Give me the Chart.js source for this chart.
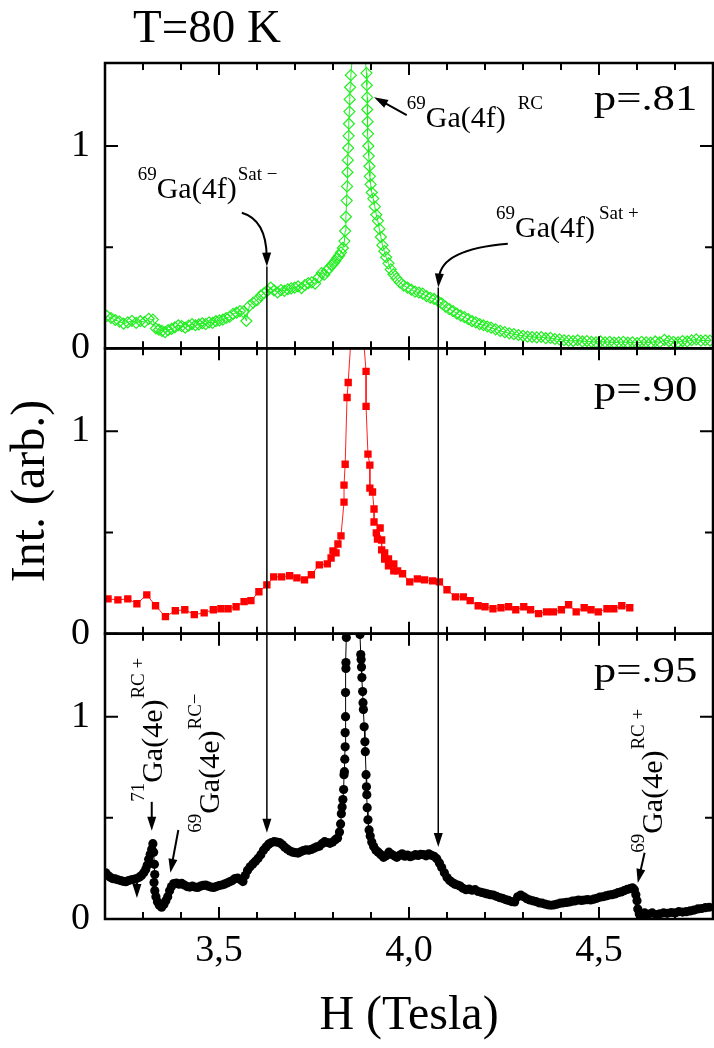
<!DOCTYPE html>
<html lang="en">
<head>
<meta charset="UTF-8">
<title>Ga NMR - T=80 K</title>
<script src="https://cdn.jsdelivr.net/npm/chart.js"></script>
<style>
  html, body { margin: 0; padding: 0; background: #fff; overflow: hidden; }
  #wrap { position: relative; width: 722px; height: 1048px; }
</style>
</head>
<body>
<div id="wrap"><canvas id="grafico" width="722" height="1048"></canvas></div>
<script>
// ---- values ----
const xMajor = [3.5, 4.0, 4.5];
const xMajorLabels = ['3,5', '4,0', '4,5'];
const yLabelled = [0, 1];
const panelLabels = ['p=.81', 'p=.90', 'p=.95'];

// p=.81  (H in Tesla, intensity)
const green = [[3.205,.160],[3.216,.150],[3.227,.140],[3.238,.132],[3.249,.122],[3.260,.128],[3.271,.136],[3.282,.126],[3.293,.134],[3.304,.130],[3.315,.146],[3.326,.142],[3.334,.098],[3.342,.092],[3.350,.086],[3.358,.080],[3.366,.090],[3.375,.096],[3.384,.104],[3.393,.114],[3.402,.110],[3.411,.102],[3.420,.112],[3.429,.120],[3.438,.114],[3.447,.118],[3.456,.124],[3.465,.120],[3.474,.128],[3.483,.126],[3.492,.134],[3.501,.138],[3.510,.142],[3.519,.150],[3.528,.156],[3.537,.170],[3.546,.176],[3.555,.184],[3.564,.180],[3.572,.135],[3.580,.210],[3.590,.226],[3.600,.238],[3.610,.260],[3.618,.272],[3.627,.284],[3.636,.300],[3.645,.286],[3.654,.276],[3.663,.288],[3.672,.284],[3.681,.292],[3.690,.296],[3.699,.300],[3.708,.306],[3.717,.298],[3.726,.312],[3.735,.322],[3.744,.326],[3.753,.320],[3.762,.350],[3.770,.372],[3.777,.364],[3.784,.384],[3.790,.396],[3.796,.410],[3.801,.420],[3.806,.432],[3.811,.446],[3.816,.458],[3.821,.474],[3.826,.496],[3.830,.530],[3.832,.580],[3.834,.650],[3.836,.730],[3.837,.800],[3.838,.870],[3.839,.930],[3.840,.990],[3.841,1.05],[3.842,1.11],[3.843,1.17],[3.844,1.23],[3.845,1.29],[3.847,1.35],
  [3.868,1.85],
  [3.888,1.36],[3.889,1.30],[3.890,1.24],[3.890,1.18],[3.891,1.12],[3.892,1.06],[3.893,1.00],[3.894,.95],[3.896,.90],[3.897,.85],[3.899,.81],[3.902,.77],[3.906,.74],[3.910,.70],[3.914,.66],[3.918,.63],[3.922,.59],[3.926,.55],[3.930,.51],[3.935,.48],[3.940,.45],[3.946,.42],[3.952,.39],[3.959,.366],[3.967,.346],[3.976,.326],[3.986,.310],[3.996,.300],[4.006,.290],[4.016,.280],[4.026,.276],[4.036,.270],[4.046,.258],[4.056,.250],[4.066,.244],[4.076,.234],[4.086,.222],[4.096,.206],[4.106,.194],[4.116,.184],[4.126,.172],[4.136,.162],[4.146,.154],[4.156,.144],[4.166,.134],[4.176,.128],[4.186,.120],[4.196,.114],[4.206,.108],[4.216,.102],[4.228,.094],[4.240,.086],[4.252,.080],[4.264,.074],[4.276,.070],[4.288,.066],[4.300,.062],[4.312,.058],[4.324,.056],[4.336,.054],[4.348,.056],[4.360,.050],[4.372,.052],[4.384,.046],[4.396,.044],[4.408,.040],[4.420,.038],[4.432,.036],[4.444,.040],[4.456,.034],[4.468,.036],[4.480,.032],[4.492,.030],[4.504,.034],[4.516,.030],[4.528,.032],[4.540,.028],[4.552,.030],[4.564,.032],[4.576,.028],[4.588,.030],[4.600,.026],[4.612,.032],[4.624,.030],[4.636,.028],[4.648,.034],[4.660,.030],[4.672,.042],[4.684,.036],[4.696,.032],[4.708,.030],[4.720,.036],[4.732,.034],[4.744,.040],[4.756,.044],[4.768,.038],[4.780,.040],[4.792,.038]];

// p=.90
const red = [[3.208,.172],[3.234,.167],[3.260,.172],[3.284,.148],[3.310,.192],[3.333,.138],[3.359,.084],[3.385,.113],[3.410,.118],[3.435,.094],[3.461,.103],[3.485,.118],[3.505,.123],[3.524,.123],[3.545,.133],[3.566,.158],[3.584,.163],[3.605,.207],[3.626,.241],[3.644,.281],[3.665,.281],[3.686,.286],[3.705,.276],[3.725,.266],[3.743,.291],[3.764,.340],[3.785,.345],[3.795,.374],[3.800,.409],[3.808,.399],[3.813,.443],[3.821,.483],[3.829,.650],[3.829,.734],[3.832,.837],[3.837,1.167],[3.840,1.241],
  [3.862,1.90],
  [3.887,1.296],[3.887,1.123],[3.892,.887],[3.897,.833],[3.897,.719],[3.904,.700],[3.908,.616],[3.908,.552],[3.924,.522],[3.914,.498],[3.917,.468],[3.928,.463],[3.928,.414],[3.936,.399],[3.936,.369],[3.946,.369],[3.946,.335],[3.960,.345],[3.960,.310],[3.970,.310],[3.983,.296],[4.002,.256],[4.022,.271],[4.041,.266],[4.062,.261],[4.080,.256],[4.100,.217],[4.122,.182],[4.143,.182],[4.161,.163],[4.182,.138],[4.200,.133],[4.221,.123],[4.242,.128],[4.262,.133],[4.281,.118],[4.302,.133],[4.320,.118],[4.341,.099],[4.362,.108],[4.380,.108],[4.401,.118],[4.420,.143],[4.440,.108],[4.461,.128],[4.479,.118],[4.498,.108],[4.521,.123],[4.539,.123],[4.560,.138],[4.581,.128]];

// p=.95
const black = [[3.202,.228],[3.208,.215],[3.214,.206],[3.220,.200],[3.227,.198],[3.234,.194],[3.241,.190],[3.248,.186],[3.255,.184],[3.262,.190],[3.269,.194],[3.276,.196],[3.283,.200],[3.290,.206],[3.296,.215],[3.302,.228],[3.307,.245],[3.311,.265],[3.315,.295],[3.319,.320],[3.323,.345],[3.326,.372],[3.328,.330],[3.330,.270],[3.331,.220],[3.329,.180],[3.331,.140],[3.334,.110],[3.338,.085],[3.343,.068],[3.349,.058],[3.355,.072],[3.360,.090],[3.365,.110],[3.370,.140],[3.375,.160],[3.381,.175],[3.388,.178],[3.395,.172],[3.402,.176],[3.409,.168],[3.416,.160],[3.423,.158],[3.430,.162],[3.437,.158],[3.444,.156],[3.451,.162],[3.458,.166],[3.465,.168],[3.472,.162],[3.479,.158],[3.486,.156],[3.493,.160],[3.500,.165],[3.507,.168],[3.514,.172],[3.521,.178],[3.528,.184],[3.535,.190],[3.542,.200],[3.549,.202],[3.556,.195],[3.563,.185],[3.569,.215],[3.575,.240],[3.582,.258],[3.589,.272],[3.596,.285],[3.603,.300],[3.610,.318],[3.617,.340],[3.624,.356],[3.631,.370],[3.638,.378],[3.645,.382],[3.652,.380],[3.659,.378],[3.666,.368],[3.673,.355],[3.680,.345],[3.687,.336],[3.694,.330],[3.701,.328],[3.708,.326],[3.715,.332],[3.722,.338],[3.729,.342],[3.736,.340],[3.743,.344],[3.750,.350],[3.757,.356],[3.764,.360],[3.771,.372],[3.778,.382],[3.785,.378],[3.792,.374],[3.799,.380],[3.806,.392],[3.812,.400],[3.817,.430],[3.820,.470],[3.822,.520],[3.824,.554],[3.826,.590],[3.828,.640],[3.829,.713],[3.830,.728],[3.831,.790],[3.832,.851],[3.832,.921],[3.833,1.000],[3.833,1.119],[3.834,1.238],[3.834,1.267],[3.835,1.391],
  [3.853,1.85],
  [3.871,1.406],[3.873,1.307],[3.874,1.282],[3.875,1.245],[3.876,1.193],[3.878,1.124],[3.879,1.069],[3.880,1.035],[3.882,.950],[3.884,.876],[3.885,.827],[3.887,.713],[3.888,.653],[3.889,.614],[3.890,.550],[3.892,.490],[3.895,.440],[3.898,.410],[3.902,.380],[3.907,.358],[3.913,.340],[3.919,.330],[3.926,.318],[3.933,.305],[3.940,.312],[3.947,.330],[3.954,.320],[3.961,.312],[3.968,.305],[3.975,.314],[3.982,.322],[3.989,.310],[3.996,.316],[4.003,.308],[4.010,.312],[4.017,.318],[4.024,.314],[4.031,.320],[4.038,.318],[4.045,.312],[4.052,.322],[4.059,.315],[4.066,.310],[4.073,.298],[4.080,.277],[4.086,.255],[4.093,.228],[4.100,.205],[4.107,.190],[4.114,.180],[4.121,.172],[4.128,.168],[4.135,.162],[4.142,.152],[4.150,.145],[4.158,.148],[4.166,.142],[4.174,.145],[4.182,.136],[4.190,.132],[4.198,.128],[4.206,.124],[4.214,.120],[4.222,.118],[4.230,.112],[4.238,.106],[4.246,.102],[4.254,.096],[4.262,.092],[4.270,.086],[4.278,.084],[4.286,.110],[4.294,.118],[4.302,.110],[4.310,.100],[4.318,.094],[4.326,.090],[4.334,.086],[4.342,.080],[4.350,.078],[4.358,.074],[4.366,.070],[4.374,.068],[4.382,.070],[4.390,.074],[4.398,.078],[4.406,.080],[4.414,.082],[4.422,.084],[4.430,.088],[4.438,.090],[4.446,.094],[4.454,.092],[4.462,.094],[4.470,.096],[4.478,.094],[4.486,.098],[4.494,.102],[4.502,.108],[4.510,.110],[4.518,.114],[4.526,.118],[4.534,.120],[4.542,.124],[4.550,.130],[4.558,.134],[4.566,.140],[4.574,.146],[4.582,.150],[4.588,.154],[4.593,.145],[4.597,.120],[4.600,.090],[4.602,.050],[4.606,.025],[4.612,.018],[4.620,.030],[4.630,.024],[4.640,.030],[4.650,.022],[4.660,.026],[4.670,.030],[4.680,.028],[4.690,.032],[4.700,.030],[4.710,.036],[4.720,.034],[4.730,.036],[4.740,.040],[4.750,.044],[4.760,.050],[4.770,.052],[4.780,.056],[4.790,.058]];

const SERIF = '"Liberation Serif", "Times New Roman", serif';
Chart.defaults.font.family = SERIF;
Chart.defaults.color = '#000';

function pts(arr) {
  return arr.map(p => ({ x: p[0], y: p[1] }));
}

// text with superscripts, parts drawn one after the other
function rich(ctx, x, y, parts, rot) {
  ctx.save();
  ctx.translate(x, y);
  if (rot) ctx.rotate(rot);
  ctx.textAlign = 'left';
  ctx.textBaseline = 'alphabetic';
  let cx = 0;
  for (const p of parts) {
    ctx.font = p.sup ? '19px ' + SERIF : '30px ' + SERIF;
    cx += p.gap || 0;
    ctx.fillText(p.t, cx, p.sup ? -18 : 0);
    cx += ctx.measureText(p.t).width;
  }
  ctx.restore();
}

function head(ctx, x, y, a) {
  const L = 14, W = 4.5;
  ctx.beginPath();
  ctx.moveTo(x, y);
  ctx.lineTo(x - L * Math.cos(a) + W * Math.sin(a), y - L * Math.sin(a) - W * Math.cos(a));
  ctx.lineTo(x - L * Math.cos(a) - W * Math.sin(a), y - L * Math.sin(a) + W * Math.cos(a));
  ctx.closePath();
  ctx.fill();
}

function arrow(ctx, a1, a2) {
  const a = Math.atan2(a2[1] - a1[1], a2[0] - a1[0]);
  ctx.beginPath();
  ctx.moveTo(a1[0], a1[1]);
  ctx.lineTo(a2[0] - 10 * Math.cos(a), a2[1] - 10 * Math.sin(a));
  ctx.stroke();
  head(ctx, a2[0], a2[1], a);
}

function curvedArrow(ctx, a1, c, a2) {
  const a = Math.atan2(a2[1] - c[1], a2[0] - c[0]);
  ctx.beginPath();
  ctx.moveTo(a1[0], a1[1]);
  ctx.quadraticCurveTo(c[0], c[1], a2[0] - 10 * Math.cos(a), a2[1] - 10 * Math.sin(a));
  ctx.stroke();
  head(ctx, a2[0], a2[1], a);
}

// frame + inward ticks on every panel
const moldura = {
  id: 'moldura',
  afterDraw(chart) {
    const ctx = chart.ctx;
    const x = chart.scales.x;
    ctx.save();
    ctx.strokeStyle = '#000';
    for (const id of ['ya', 'yb', 'yc']) {
      const s = chart.scales[id];
      ctx.lineWidth = 2;
      x.ticks.forEach(t => {
        const px = x.getPixelForValue(t.value);
        const big = xMajor.some(m => Math.abs(m - t.value) < 1e-6);
        const len = big ? 12 : 7;
        ctx.beginPath();
        ctx.moveTo(px, s.top); ctx.lineTo(px, s.top + len);
        ctx.moveTo(px, s.bottom); ctx.lineTo(px, s.bottom - len);
        ctx.stroke();
      });
      s.ticks.forEach(t => {
        if (t.value > 1.0001) return;
        const py = s.getPixelForValue(t.value);
        const big = yLabelled.includes(t.value);
        const len = big ? 13 : 8;
        ctx.beginPath();
        ctx.moveTo(x.left, py); ctx.lineTo(x.left + len, py);
        ctx.moveTo(x.right, py); ctx.lineTo(x.right - len, py);
        ctx.stroke();
      });
      ctx.lineWidth = 2.5;
      ctx.strokeRect(x.left, s.top, x.right - x.left, s.bottom - s.top);
    }
    ctx.restore();
  }
};

// labels and arrows
const anotacoes = {
  id: 'anotacoes',
  afterDraw(chart) {
    const ctx = chart.ctx;
    const x = chart.scales.x;
    const ya = chart.scales.ya, yb = chart.scales.yb, yc = chart.scales.yc;
    const P = (s, h, v) => [x.getPixelForValue(h), s.getPixelForValue(v)];
    ctx.save();
    ctx.fillStyle = '#000';
    ctx.strokeStyle = '#000';

    ctx.font = '47px ' + SERIF;
    ctx.textAlign = 'left';
    ctx.textBaseline = 'alphabetic';
    ctx.fillText('T=80 K', 133, 42);

    // p labels, right aligned
    [[ya, 1.177], [yb, 1.148], [yc, 1.173]].forEach((it, i) => {
      const q = P(it[0], 4.759, it[1]);
      ctx.save();
      ctx.translate(q[0], q[1]);
      ctx.scale(1.28, 1);
      ctx.font = '35px ' + SERIF;
      ctx.textAlign = 'right';
      ctx.fillText(panelLabels[i], 0, 0);
      ctx.restore();
    });

    // top panel labels
    let q = P(ya, 3.286, 0.744);
    rich(ctx, q[0], q[1], [{ t: '69', sup: true }, { t: 'Ga(4f)' }, { t: 'Sat \u2212', sup: true, gap: 1 }]);
    q = P(ya, 3.994, 1.094);
    rich(ctx, q[0], q[1], [{ t: '69', sup: true }, { t: 'Ga(4f)' }, { t: 'RC', sup: true, gap: 12 }]);
    q = P(ya, 4.229, 0.552);
    rich(ctx, q[0], q[1], [{ t: '69', sup: true }, { t: 'Ga(4f)' }, { t: 'Sat +', sup: true, gap: 4 }]);

    // bottom panel labels (rotated)
    const up = -Math.PI / 2;
    q = P(yc, 3.349, 0.579);
    rich(ctx, q[0], q[1], [{ t: '71', sup: true }, { t: 'Ga(4e)' }, { t: 'RC +', sup: true, gap: 1 }], up);
    q = P(yc, 3.500, 0.426);
    rich(ctx, q[0], q[1], [{ t: '69', sup: true }, { t: 'Ga(4e)' }, { t: 'RC\u2212', sup: true, gap: 1 }], up);
    q = P(yc, 4.665, 0.327);
    rich(ctx, q[0], q[1], [{ t: '69', sup: true }, { t: 'Ga(4e)' }, { t: 'RC +', sup: true, gap: 1 }], up);

    ctx.lineWidth = 2;
    // satellite arrows running through all panels
    curvedArrow(ctx, P(ya, 3.560, 0.67), P(ya, 3.624, 0.635), P(ya, 3.626, 0.404));
    curvedArrow(ctx, P(ya, 4.260, 0.517), P(ya, 4.085, 0.490), P(ya, 4.077, 0.300));
    ctx.lineWidth = 1.5;
    arrow(ctx, P(ya, 3.626, 0.404), P(yc, 3.626, 0.426));
    arrow(ctx, P(ya, 4.077, 0.300), P(yc, 4.077, 0.356));
    ctx.lineWidth = 2;
    arrow(ctx, P(ya, 3.994, 1.153), P(ya, 3.908, 1.241));

    arrow(ctx, P(yc, 3.323, 0.579), P(yc, 3.323, 0.436));
    arrow(ctx, P(yc, 3.393, 0.440), P(yc, 3.372, 0.228));
    arrow(ctx, P(yc, 3.284, 0.180), P(yc, 3.284, 0.104));
    arrow(ctx, P(yc, 4.620, 0.327), P(yc, 4.602, 0.178));
    ctx.restore();
  }
};

function yAxis(title) {
  return {
    type: 'linear',
    position: 'left',
    stack: 'paineis',
    stackWeight: 1,
    min: 0,
    max: 1.41,
    grid: { display: false, drawTicks: false },
    border: { display: false },
    ticks: {
      stepSize: 0.5,
      padding: 15,
      font: { size: 38 },
      callback: v => yLabelled.includes(v) ? String(v) : ''
    },
    title: title ? { display: true, text: title, font: { size: 48 }, padding: { top: 3, bottom: 0 } } : { display: false },
    afterFit: s => { s.width = 105; }
  };
}

new Chart(document.getElementById('grafico'), {
  type: 'line',
  data: {
    datasets: [
      {
        label: 'p=.81', data: pts(green), yAxisID: 'ya',
        borderColor: '#22ee22', borderWidth: 1, tension: 0, clip: 0,
        pointStyle: 'rectRot', pointRadius: 5.5, pointBorderWidth: 1.2,
        pointBorderColor: '#22ee22', pointBackgroundColor: 'rgba(0,0,0,0)'
      },
      {
        label: 'p=.90', data: pts(red), yAxisID: 'yb',
        borderColor: '#ff2020', borderWidth: 1, tension: 0, clip: 0,
        pointStyle: 'rect', pointRadius: 5.2, pointBorderWidth: 0,
        pointBackgroundColor: '#ff0000'
      },
      {
        label: 'p=.95', data: pts(black), yAxisID: 'yc',
        borderColor: '#000', borderWidth: 1, tension: 0, clip: 0,
        pointStyle: 'circle', pointRadius: 4.6, pointBorderWidth: 0,
        pointBackgroundColor: '#000'
      }
    ]
  },
  options: {
    responsive: false,
    animation: false,
    events: [],
    layout: { padding: { top: 63, right: 4, left: 0, bottom: 0 } },
    plugins: { legend: { display: false }, tooltip: { enabled: false } },
    scales: {
      yc: yAxis(null),
      yb: yAxis('Int. (arb.)'),
      ya: yAxis(null),
      x: {
        type: 'linear',
        position: 'bottom',
        min: 3.2,
        max: 4.8,
        grid: { display: false, drawTicks: false },
        border: { display: false },
        ticks: {
          stepSize: 0.1,
          autoSkip: false,
          maxRotation: 0,
          padding: 9,
          font: { size: 38 },
          callback: v => {
            const i = xMajor.findIndex(m => Math.abs(m - v) < 1e-6);
            return i >= 0 ? xMajorLabels[i] : '';
          }
        },
        title: { display: true, text: 'H (Tesla)', font: { size: 48 }, padding: { top: 0, bottom: 3 } },
        afterFit: s => { s.height = 129; }
      }
    }
  },
  plugins: [moldura, anotacoes]
});
</script>
</body>
</html>
